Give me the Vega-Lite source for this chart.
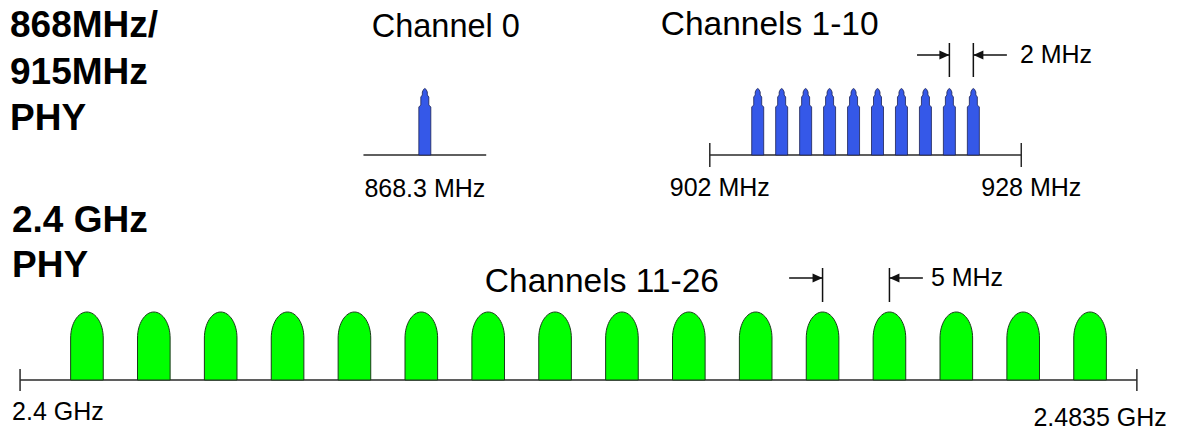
{
  "$schema": "https://vega.github.io/schema/vega-lite/v6.json",
  "padding": 0,
  "background": "white",
  "spacing": 0,
  "bounds": "flush",
  "config": {
    "view": {"stroke": null},
    "concat": {"spacing": 0},
    "text": {"font": "Liberation Sans", "color": "#000000"}
  },
  "datasets": {
    "ch0": [{"channel": 0, "mhz": 868.3, "label": "868.3 MHz", "title": "Channel 0"}],
    "ch0span": [{"from": 863.2, "to": 873.4}],
    "sub915": [
      {"channel": 1, "mhz": 906}, {"channel": 2, "mhz": 908}, {"channel": 3, "mhz": 910},
      {"channel": 4, "mhz": 912}, {"channel": 5, "mhz": 914}, {"channel": 6, "mhz": 916},
      {"channel": 7, "mhz": 918}, {"channel": 8, "mhz": 920}, {"channel": 9, "mhz": 922},
      {"channel": 10, "mhz": 924}
    ],
    "edges915": [{"mhz": 902, "label": "902 MHz"}, {"mhz": 928, "label": "928 MHz"}],
    "span915": [{"from": 902, "to": 928}],
    "marks915": [{"mhz": 922}, {"mhz": 924}],
    "arrows915": [
      {"tail": 919.3, "tip": 922, "dir": "right", "label": ""},
      {"tail": 926.8, "tip": 924, "dir": "left", "label": "2 MHz"}
    ],
    "ghz": [
      {"channel": 11, "mhz": 2405}, {"channel": 12, "mhz": 2410}, {"channel": 13, "mhz": 2415},
      {"channel": 14, "mhz": 2420}, {"channel": 15, "mhz": 2425}, {"channel": 16, "mhz": 2430},
      {"channel": 17, "mhz": 2435}, {"channel": 18, "mhz": 2440}, {"channel": 19, "mhz": 2445},
      {"channel": 20, "mhz": 2450}, {"channel": 21, "mhz": 2455}, {"channel": 22, "mhz": 2460},
      {"channel": 23, "mhz": 2465}, {"channel": 24, "mhz": 2470}, {"channel": 25, "mhz": 2475},
      {"channel": 26, "mhz": 2480}
    ],
    "edgesGhz": [{"mhz": 2400, "label": "2.4 GHz", "edge": "low"}, {"mhz": 2483.5, "label": "2.4835 GHz", "edge": "high"}],
    "spanGhz": [{"from": 2400, "to": 2483.5}],
    "marksGhz": [{"mhz": 2460}, {"mhz": 2465}],
    "arrowsGhz": [
      {"tail": 2457.5, "tip": 2460, "dir": "right", "label": ""},
      {"tail": 2467.5, "tip": 2465, "dir": "left", "label": "5 MHz"}
    ]
  },
  "vconcat": [
    {
      "width": 1177,
      "height": 200,
      "resolve": {"scale": {"x": "independent"}},
      "layer": [
        {
          "data": {"values": [{"phy": "868MHz/\n915MHz\nPHY"}]},
          "mark": {"type": "text", "align": "left", "baseline": "alphabetic", "fontSize": 37, "fontWeight": "bold", "lineBreak": "\n", "lineHeight": 46.5, "dx": 10},
          "encoding": {
            "x": {"datum": 833, "type": "quantitative", "scale": {"domain": [833, 930.8], "nice": false, "zero": false}, "axis": null},
            "y": {"datum": 1.18, "type": "quantitative", "scale": {"domain": [-0.45, 1.55], "nice": false, "zero": false}, "axis": null},
            "text": {"field": "phy"}
          }
        },
        {
          "data": {"name": "ch0span"},
          "mark": {"type": "rule", "color": "#2a2a2a", "strokeWidth": 1.5},
          "encoding": {
            "x": {"field": "from", "type": "quantitative", "scale": {"domain": [833, 930.8], "nice": false, "zero": false}, "axis": null},
            "x2": {"field": "to"},
            "y": {"datum": 0, "type": "quantitative", "scale": {"domain": [-0.45, 1.55], "nice": false, "zero": false}, "axis": null}
          }
        },
        {
          "data": {"name": "ch0"},
          "mark": {"type": "point", "filled": true, "opacity": 1, "size": 40000, "fill": "#3558e8", "stroke": "#1c2255", "strokeWidth": 0.8,
            "shape": "M-0.06,0 L-0.06,-0.48 L-0.04,-0.5 L-0.04,-0.58 L-0.025,-0.6 L-0.025,-0.63 Q0,-0.7 0.025,-0.63 L0.025,-0.6 L0.04,-0.58 L0.04,-0.5 L0.06,-0.48 L0.06,0 Z"},
          "encoding": {
            "x": {"field": "mhz", "type": "quantitative", "scale": {"domain": [833, 930.8], "nice": false, "zero": false}, "axis": null},
            "y": {"datum": 0, "type": "quantitative", "scale": {"domain": [-0.45, 1.55], "nice": false, "zero": false}, "axis": null}
          }
        },
        {
          "data": {"name": "ch0"},
          "mark": {"type": "text", "align": "center", "baseline": "alphabetic", "fontSize": 32.5, "dx": 21},
          "encoding": {
            "x": {"field": "mhz", "type": "quantitative", "scale": {"domain": [833, 930.8], "nice": false, "zero": false}, "axis": null},
            "y": {"datum": 1.18, "type": "quantitative", "scale": {"domain": [-0.45, 1.55], "nice": false, "zero": false}, "axis": null},
            "text": {"field": "title"}
          }
        },
        {
          "data": {"name": "ch0"},
          "mark": {"type": "text", "align": "center", "baseline": "alphabetic", "fontSize": 25, "dy": 42},
          "encoding": {
            "x": {"field": "mhz", "type": "quantitative", "scale": {"domain": [833, 930.8], "nice": false, "zero": false}, "axis": null},
            "y": {"datum": 0, "type": "quantitative", "scale": {"domain": [-0.45, 1.55], "nice": false, "zero": false}, "axis": null},
            "text": {"field": "label"}
          }
        },
        {
          "data": {"values": [{"title": "Channels 1-10"}]},
          "mark": {"type": "text", "align": "center", "baseline": "alphabetic", "fontSize": 33.5},
          "encoding": {
            "x": {"datum": 907, "type": "quantitative", "scale": {"domain": [842.75, 941], "nice": false, "zero": false}, "axis": null},
            "y": {"datum": 1.2, "type": "quantitative", "scale": {"domain": [-0.45, 1.55], "nice": false, "zero": false}, "axis": null},
            "text": {"field": "title"}
          }
        },
        {
          "data": {"name": "span915"},
          "mark": {"type": "rule", "color": "#2a2a2a", "strokeWidth": 1.5},
          "encoding": {
            "x": {"field": "from", "type": "quantitative", "scale": {"domain": [842.75, 941], "nice": false, "zero": false}, "axis": null},
            "x2": {"field": "to"},
            "y": {"datum": 0, "type": "quantitative", "scale": {"domain": [-0.45, 1.55], "nice": false, "zero": false}, "axis": null}
          }
        },
        {
          "data": {"name": "edges915"},
          "mark": {"type": "rule", "color": "#2a2a2a", "strokeWidth": 1.5},
          "encoding": {
            "x": {"field": "mhz", "type": "quantitative", "scale": {"domain": [842.75, 941], "nice": false, "zero": false}, "axis": null},
            "y": {"datum": -0.12, "type": "quantitative", "scale": {"domain": [-0.45, 1.55], "nice": false, "zero": false}, "axis": null},
            "y2": {"datum": 0.12}
          }
        },
        {
          "data": {"name": "sub915"},
          "mark": {"type": "point", "filled": true, "opacity": 1, "size": 40000, "fill": "#3558e8", "stroke": "#1c2255", "strokeWidth": 0.8,
            "shape": "M-0.06,0 L-0.06,-0.48 L-0.04,-0.5 L-0.04,-0.58 L-0.025,-0.6 L-0.025,-0.63 Q0,-0.7 0.025,-0.63 L0.025,-0.6 L0.04,-0.58 L0.04,-0.5 L0.06,-0.48 L0.06,0 Z"},
          "encoding": {
            "x": {"field": "mhz", "type": "quantitative", "scale": {"domain": [842.75, 941], "nice": false, "zero": false}, "axis": null},
            "y": {"datum": 0, "type": "quantitative", "scale": {"domain": [-0.45, 1.55], "nice": false, "zero": false}, "axis": null}
          }
        },
        {
          "data": {"name": "edges915"},
          "mark": {"type": "text", "align": "center", "baseline": "alphabetic", "fontSize": 25, "dy": 41, "dx": 10},
          "encoding": {
            "x": {"field": "mhz", "type": "quantitative", "scale": {"domain": [842.75, 941], "nice": false, "zero": false}, "axis": null},
            "y": {"datum": 0, "type": "quantitative", "scale": {"domain": [-0.45, 1.55], "nice": false, "zero": false}, "axis": null},
            "text": {"field": "label"}
          }
        },
        {
          "data": {"name": "marks915"},
          "mark": {"type": "rule", "color": "#111111", "strokeWidth": 1.5},
          "encoding": {
            "x": {"field": "mhz", "type": "quantitative", "scale": {"domain": [842.75, 941], "nice": false, "zero": false}, "axis": null},
            "y": {"datum": 0.78, "type": "quantitative", "scale": {"domain": [-0.45, 1.55], "nice": false, "zero": false}, "axis": null},
            "y2": {"datum": 1.12}
          }
        },
        {
          "data": {"name": "arrows915"},
          "mark": {"type": "rule", "color": "#111111", "strokeWidth": 1.5},
          "encoding": {
            "x": {"field": "tail", "type": "quantitative", "scale": {"domain": [842.75, 941], "nice": false, "zero": false}, "axis": null},
            "x2": {"field": "tip"},
            "y": {"datum": 1.0, "type": "quantitative", "scale": {"domain": [-0.45, 1.55], "nice": false, "zero": false}, "axis": null}
          }
        },
        {
          "data": {"name": "arrows915"},
          "transform": [{"filter": "datum.dir === 'right'"}],
          "mark": {"type": "point", "filled": true, "opacity": 1, "size": 400, "color": "#111111", "shape": "M0,0 L-1,-0.45 L-1,0.45 Z"},
          "encoding": {
            "x": {"field": "tip", "type": "quantitative", "scale": {"domain": [842.75, 941], "nice": false, "zero": false}, "axis": null},
            "y": {"datum": 1.0, "type": "quantitative", "scale": {"domain": [-0.45, 1.55], "nice": false, "zero": false}, "axis": null}
          }
        },
        {
          "data": {"name": "arrows915"},
          "transform": [{"filter": "datum.dir === 'left'"}],
          "mark": {"type": "point", "filled": true, "opacity": 1, "size": 400, "color": "#111111", "shape": "M0,0 L1,-0.45 L1,0.45 Z"},
          "encoding": {
            "x": {"field": "tip", "type": "quantitative", "scale": {"domain": [842.75, 941], "nice": false, "zero": false}, "axis": null},
            "y": {"datum": 1.0, "type": "quantitative", "scale": {"domain": [-0.45, 1.55], "nice": false, "zero": false}, "axis": null}
          }
        },
        {
          "data": {"name": "arrows915"},
          "transform": [{"filter": "datum.dir === 'left'"}],
          "mark": {"type": "text", "align": "left", "baseline": "middle", "fontSize": 25, "dx": 13},
          "encoding": {
            "x": {"field": "tail", "type": "quantitative", "scale": {"domain": [842.75, 941], "nice": false, "zero": false}, "axis": null},
            "y": {"datum": 1.0, "type": "quantitative", "scale": {"domain": [-0.45, 1.55], "nice": false, "zero": false}, "axis": null},
            "text": {"field": "label"}
          }
        }
      ]
    },
    {
      "width": 1177,
      "height": 230,
      "layer": [
        {
          "data": {"values": [{"phy": "2.4 GHz\nPHY"}]},
          "mark": {"type": "text", "align": "left", "baseline": "alphabetic", "fontSize": 37, "fontWeight": "bold", "lineBreak": "\n", "lineHeight": 45, "dx": 12},
          "encoding": {
            "x": {"datum": 2398.5, "type": "quantitative", "scale": {"domain": [2398.5, 2486.5], "nice": false, "zero": false}, "axis": null},
            "y": {"datum": 1.48, "type": "quantitative", "scale": {"domain": [-0.5, 1.8], "nice": false, "zero": false}, "axis": null},
            "text": {"field": "phy"}
          }
        },
        {
          "data": {"values": [{"title": "Channels 11-26"}]},
          "mark": {"type": "text", "align": "center", "baseline": "alphabetic", "fontSize": 33.5},
          "encoding": {
            "x": {"datum": 2443.5, "type": "quantitative", "scale": {"domain": [2398.5, 2486.5], "nice": false, "zero": false}, "axis": null},
            "y": {"datum": 0.88, "type": "quantitative", "scale": {"domain": [-0.5, 1.8], "nice": false, "zero": false}, "axis": null},
            "text": {"field": "title"}
          }
        },
        {
          "data": {"name": "spanGhz"},
          "mark": {"type": "rule", "color": "#2a2a2a", "strokeWidth": 1.5},
          "encoding": {
            "x": {"field": "from", "type": "quantitative", "scale": {"domain": [2398.5, 2486.5], "nice": false, "zero": false}, "axis": null},
            "x2": {"field": "to"},
            "y": {"datum": 0, "type": "quantitative", "scale": {"domain": [-0.5, 1.8], "nice": false, "zero": false}, "axis": null}
          }
        },
        {
          "data": {"name": "edgesGhz"},
          "mark": {"type": "rule", "color": "#2a2a2a", "strokeWidth": 1.5},
          "encoding": {
            "x": {"field": "mhz", "type": "quantitative", "scale": {"domain": [2398.5, 2486.5], "nice": false, "zero": false}, "axis": null},
            "y": {"datum": -0.11, "type": "quantitative", "scale": {"domain": [-0.5, 1.8], "nice": false, "zero": false}, "axis": null},
            "y2": {"datum": 0.11}
          }
        },
        {
          "data": {"name": "ghz"},
          "mark": {"type": "point", "filled": true, "opacity": 1, "size": 40000, "fill": "#00ff00", "stroke": "#1a3a1a", "strokeWidth": 1,
            "shape": "M-0.163,0 L-0.163,-0.42 C-0.163,-0.5635 -0.09,-0.68 0,-0.68 C0.09,-0.68 0.163,-0.5635 0.163,-0.42 L0.163,0 Z"},
          "encoding": {
            "x": {"field": "mhz", "type": "quantitative", "scale": {"domain": [2398.5, 2486.5], "nice": false, "zero": false}, "axis": null},
            "y": {"datum": 0, "type": "quantitative", "scale": {"domain": [-0.5, 1.8], "nice": false, "zero": false}, "axis": null}
          }
        },
        {
          "data": {"name": "edgesGhz"},
          "transform": [{"filter": "datum.edge === 'low'"}],
          "mark": {"type": "text", "align": "left", "baseline": "alphabetic", "fontSize": 25, "dy": 40, "dx": -8},
          "encoding": {
            "x": {"field": "mhz", "type": "quantitative", "scale": {"domain": [2398.5, 2486.5], "nice": false, "zero": false}, "axis": null},
            "y": {"datum": 0, "type": "quantitative", "scale": {"domain": [-0.5, 1.8], "nice": false, "zero": false}, "axis": null},
            "text": {"field": "label"}
          }
        },
        {
          "data": {"name": "edgesGhz"},
          "transform": [{"filter": "datum.edge === 'high'"}],
          "mark": {"type": "text", "align": "right", "baseline": "alphabetic", "fontSize": 25, "dy": 46, "dx": 30},
          "encoding": {
            "x": {"field": "mhz", "type": "quantitative", "scale": {"domain": [2398.5, 2486.5], "nice": false, "zero": false}, "axis": null},
            "y": {"datum": 0, "type": "quantitative", "scale": {"domain": [-0.5, 1.8], "nice": false, "zero": false}, "axis": null},
            "text": {"field": "label"}
          }
        },
        {
          "data": {"name": "marksGhz"},
          "mark": {"type": "rule", "color": "#111111", "strokeWidth": 1.5},
          "encoding": {
            "x": {"field": "mhz", "type": "quantitative", "scale": {"domain": [2398.5, 2486.5], "nice": false, "zero": false}, "axis": null},
            "y": {"datum": 0.78, "type": "quantitative", "scale": {"domain": [-0.5, 1.8], "nice": false, "zero": false}, "axis": null},
            "y2": {"datum": 1.12}
          }
        },
        {
          "data": {"name": "arrowsGhz"},
          "mark": {"type": "rule", "color": "#111111", "strokeWidth": 1.5},
          "encoding": {
            "x": {"field": "tail", "type": "quantitative", "scale": {"domain": [2398.5, 2486.5], "nice": false, "zero": false}, "axis": null},
            "x2": {"field": "tip"},
            "y": {"datum": 1.02, "type": "quantitative", "scale": {"domain": [-0.5, 1.8], "nice": false, "zero": false}, "axis": null}
          }
        },
        {
          "data": {"name": "arrowsGhz"},
          "transform": [{"filter": "datum.dir === 'right'"}],
          "mark": {"type": "point", "filled": true, "opacity": 1, "size": 400, "color": "#111111", "shape": "M0,0 L-1,-0.45 L-1,0.45 Z"},
          "encoding": {
            "x": {"field": "tip", "type": "quantitative", "scale": {"domain": [2398.5, 2486.5], "nice": false, "zero": false}, "axis": null},
            "y": {"datum": 1.02, "type": "quantitative", "scale": {"domain": [-0.5, 1.8], "nice": false, "zero": false}, "axis": null}
          }
        },
        {
          "data": {"name": "arrowsGhz"},
          "transform": [{"filter": "datum.dir === 'left'"}],
          "mark": {"type": "point", "filled": true, "opacity": 1, "size": 400, "color": "#111111", "shape": "M0,0 L1,-0.45 L1,0.45 Z"},
          "encoding": {
            "x": {"field": "tip", "type": "quantitative", "scale": {"domain": [2398.5, 2486.5], "nice": false, "zero": false}, "axis": null},
            "y": {"datum": 1.02, "type": "quantitative", "scale": {"domain": [-0.5, 1.8], "nice": false, "zero": false}, "axis": null}
          }
        },
        {
          "data": {"name": "arrowsGhz"},
          "transform": [{"filter": "datum.dir === 'left'"}],
          "mark": {"type": "text", "align": "left", "baseline": "middle", "fontSize": 25, "dx": 8},
          "encoding": {
            "x": {"field": "tail", "type": "quantitative", "scale": {"domain": [2398.5, 2486.5], "nice": false, "zero": false}, "axis": null},
            "y": {"datum": 1.02, "type": "quantitative", "scale": {"domain": [-0.5, 1.8], "nice": false, "zero": false}, "axis": null},
            "text": {"field": "label"}
          }
        }
      ]
    }
  ]
}
